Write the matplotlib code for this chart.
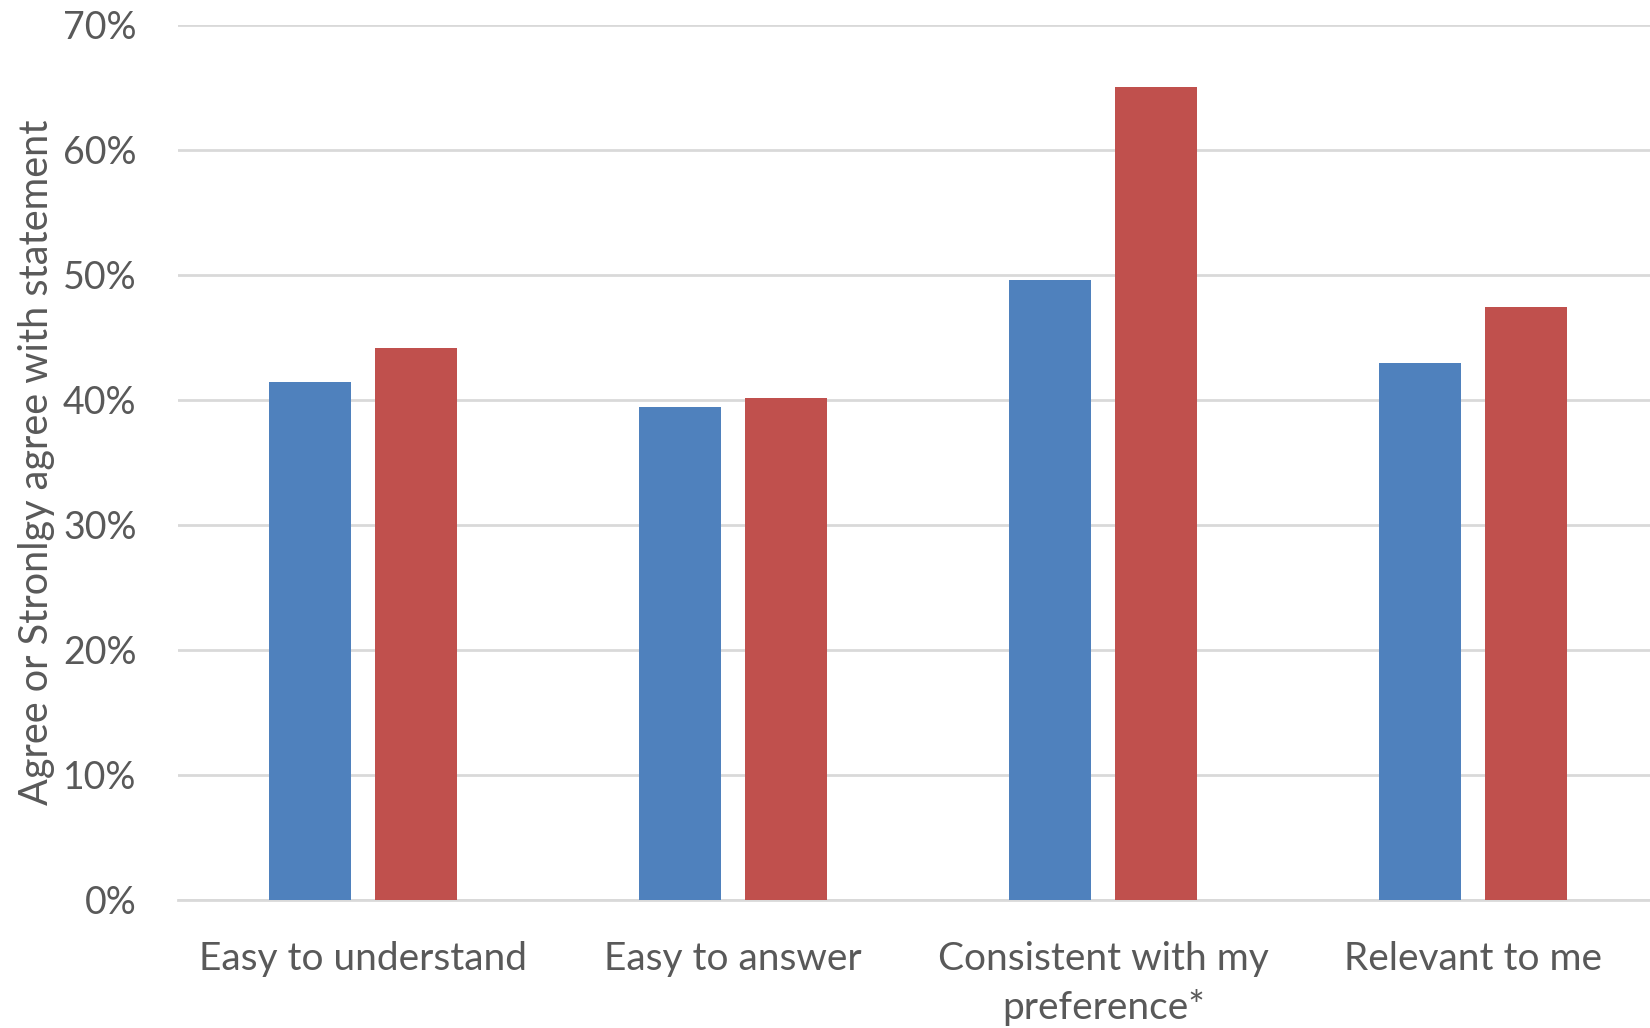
import numpy as np
import matplotlib.pyplot as plt
from matplotlib.ticker import PercentFormatter

plt.rcParams['font.family'] = ['Lato', 'DejaVu Sans']

categories = ["Easy to understand", "Easy to answer", "Consistent with my\npreference*", "Relevant to me"]
series_blue = [41.4, 39.4, 49.6, 42.9]
series_red = [44.1, 40.1, 65.0, 47.4]

gray = '#595959'

fig = plt.figure(figsize=(16.5, 10.28), dpi=100)
ax = fig.add_axes([0.108, 0.125, 0.897, 0.851])

x = np.arange(len(categories))
w = 0.222
ax.bar(x - 0.143, series_blue, width=w, color='#4F81BD', zorder=3)
ax.bar(x + 0.143, series_red, width=w, color='#C0504D', zorder=3)

ax.set_xlim(-0.5, len(categories) - 0.5)
ax.set_ylim(0, 70)
ax.set_yticks(range(0, 71, 10))
ax.yaxis.set_major_formatter(PercentFormatter(decimals=0))
ax.grid(axis='y', color='#d9d9d9', linewidth=2, zorder=0)

for s in ['top', 'right', 'left']:
    ax.spines[s].set_visible(False)
ax.spines['bottom'].set_color('#d9d9d9')
ax.spines['bottom'].set_linewidth(2)

ax.set_xticks(x)
ax.set_xticklabels(categories, linespacing=1.4)
ax.tick_params(axis='x', length=0, pad=30, labelsize=28, labelcolor=gray)
ax.tick_params(axis='y', length=0, pad=30, labelsize=27, labelcolor=gray)

ax.set_ylabel("Agree or Stronlgy agree with statement", fontsize=28.5, color=gray, labelpad=6)

fig.savefig('out.png', dpi=100)
